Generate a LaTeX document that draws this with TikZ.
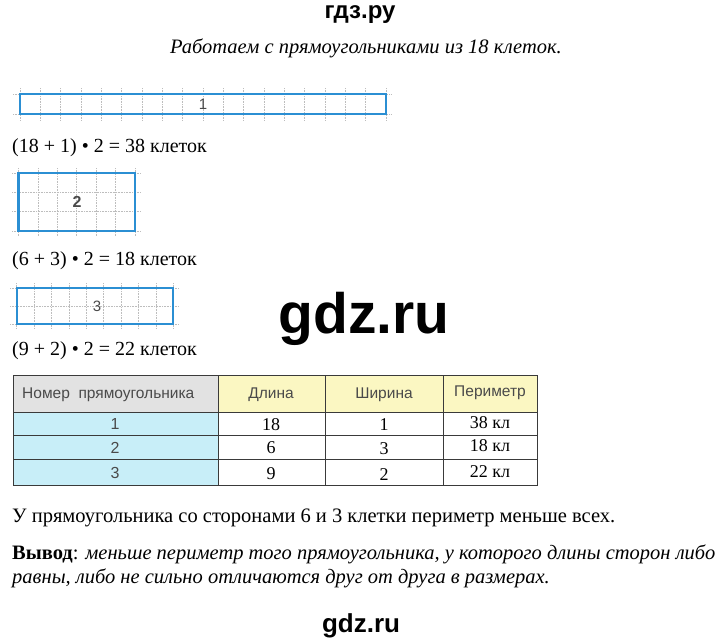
\documentclass[tikz,border=0pt]{standalone}
\usepackage{fontspec}
\setmainfont{Liberation Serif}
\setsansfont{Liberation Sans}
\definecolor{rectblue}{HTML}{2B8FD3}
\definecolor{gridgray}{HTML}{BDBDBD}
\definecolor{hdrgray}{HTML}{E2E2E2}
\definecolor{hdryellow}{HTML}{FBF7C2}
\definecolor{rowcyan}{HTML}{C8EEF8}
\definecolor{tabline}{HTML}{3A3A3A}
\definecolor{hdrtext}{HTML}{4A4A4A}
\tikzset{
  gridline/.style={gridgray, densely dotted, line width=0.6pt},
  bluerect/.style={rectblue, line width=2.2pt},
  celllabel/.style={font=\fontsize{15}{15}\selectfont\sffamily, text=hdrtext, inner sep=0pt},
  eqtext/.style={font=\fontsize{20}{20}\selectfont, anchor=base west, inner sep=0pt},
  bodytext/.style={font=\fontsize{20.5}{20.5}\selectfont, anchor=base west, inner sep=0pt},
  hdr/.style={font=\fontsize{15.5}{15.5}\selectfont\sffamily, text=hdrtext, inner sep=0pt, anchor=base},
  numcell/.style={font=\fontsize{16}{16}\selectfont\sffamily, text=hdrtext, inner sep=0pt, anchor=base},
  dat/.style={font=\fontsize{18}{18}\selectfont, inner sep=0pt, anchor=base},
  tline/.style={tabline, line width=1pt}
}
\begin{document}
\begin{tikzpicture}[x=1pt,y=-1pt]
\useasboundingbox[fill=white] (0,0) rectangle (720,643);

% headings
\node[font=\fontsize{24}{24}\selectfont\sffamily\bfseries, anchor=base, inner sep=0pt] (top) at (360,18) {гдз.ру};
\node[font=\fontsize{20.5}{20.5}\selectfont\itshape, anchor=base, inner sep=0pt] (title) at (366,53) {Работаем с прямоугольниками из 18 клеток.};

% rectangle 1 (18 x 1)
\foreach \i in {0,...,18} \draw[gridline] (20+\i*20.333,88) -- (20+\i*20.333,121);
\foreach \j in {0,1} \draw[gridline] (13,94.3+\j*20) -- (392,94.3+\j*20);
\draw[bluerect] (20,94.3) rectangle (386,114.3);
\node[celllabel] (r1) at (203,104.3) {1};
\node[eqtext] (eq1) at (12,152) {(18 + 1) • 2 = 38 клеток};

% rectangle 2 (6 x 3)
\foreach \i in {0,...,6} \draw[gridline] (18.5+\i*19.42,168) -- (18.5+\i*19.42,236);
\foreach \j in {0,...,3} \draw[gridline] (12,173.3+\j*19.23) -- (141,173.3+\j*19.23);
\draw[bluerect] (18.5,173.3) rectangle (135,231);
\node[celllabel, font=\fontsize{16}{16}\selectfont\sffamily\bfseries] (r2) at (77,202) {2};
\node[eqtext] (eq2) at (12,265) {(6 + 3) • 2 = 18 клеток};

% rectangle 3 (9 x 2)
\foreach \i in {0,...,9} \draw[gridline] (16.7+\i*17.4,283) -- (16.7+\i*17.4,329);
\foreach \j in {0,1,2} \draw[gridline] (10,288.3+\j*17.85) -- (179,288.3+\j*17.85);
\draw[bluerect] (16.7,288.3) rectangle (173.3,324);
\node[celllabel] (r3) at (97,306) {3};
\node[eqtext] (eq3) at (12,355) {(9 + 2) • 2 = 22 клеток};

% watermark
\node[font=\fontsize{57}{57}\selectfont\sffamily\bfseries, anchor=base, inner sep=0pt] (wm) at (364,333) {gdz.ru};

% table
\fill[hdrgray] (13,375) rectangle (218,412);
\fill[hdryellow] (218,375) rectangle (537,412);
\fill[rowcyan] (13,412) rectangle (218,485);
\draw[tline] (13,375) rectangle (537,485);
\foreach \y in {412,435,459} \draw[tline] (13,\y) -- (537,\y);
\foreach \x in {218,325,443} \draw[tline] (\x,375) -- (\x,485);

\node[hdr, anchor=base west] (h1) at (22,398) {Номер\ \ прямоугольника};
\node[hdr] (h2) at (271,398) {Длина};
\node[hdr] (h3) at (384,398) {Ширина};
\node[hdr] (h4) at (490,396) {Периметр};

\node[numcell] (n1) at (115,429) {1};
\node[numcell] (n2) at (115,453) {2};
\node[numcell] (n3) at (115,478) {3};

\node[dat] (d11) at (271,430) {18};
\node[dat] (d12) at (384,430) {1};
\node[dat] (d13) at (490,428) {38 кл};
\node[dat] (d21) at (271,453) {6};
\node[dat] (d22) at (384,454) {3};
\node[dat] (d23) at (490,451) {18 кл};
\node[dat] (d31) at (271,479) {9};
\node[dat] (d32) at (384,480) {2};
\node[dat] (d33) at (490,477) {22 кл};

% conclusions
\node[bodytext] (s1) at (12,522) {У прямоугольника со сторонами 6 и 3 клетки периметр меньше всех.};
\node[bodytext] (s2) at (12,559) {\textbf{Вывод}: \textit{меньше периметр того прямоугольника, у которого длины сторон либо}};
\node[bodytext] (s3) at (12,583) {\textit{равны, либо не сильно отличаются друг от друга в размерах.}};

\node[font=\fontsize{26}{26}\selectfont\sffamily\bfseries, anchor=base, inner sep=0pt] (bottom) at (361,632) {gdz.ru};
\end{tikzpicture}
\end{document}
